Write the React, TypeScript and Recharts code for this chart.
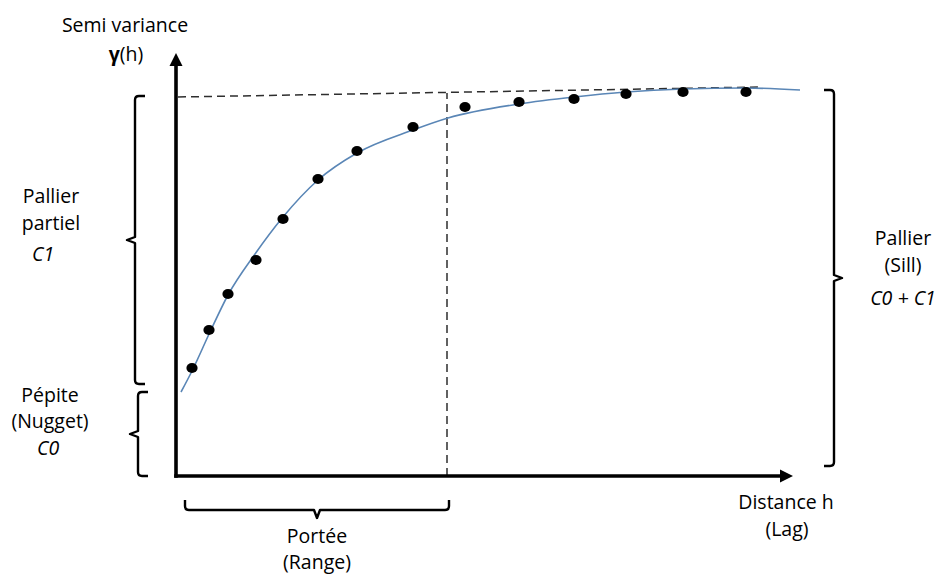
import React from "react";
import {
  ComposedChart,
  Line,
  Scatter,
  XAxis,
  YAxis,
  ReferenceLine,
} from "recharts";

// experimental semivariogram (lag h, gamma(h))
const lags = [1.6, 3.3, 5.2, 8.0, 10.7, 14.2, 18.1, 23.7, 28.9, 34.3, 39.8, 45.0, 50.7, 57.0];
const gammas = [10.8, 14.6, 18.2, 21.6, 25.7, 29.7, 32.5, 34.9, 36.9, 37.4, 37.7, 38.2, 38.4, 38.4];

// fitted model curve
const modelLags = [0.5, 1.6, 3.4, 5.2, 7.9, 10.7, 14.2, 18.1, 23.7, 27.2, 34.3, 39.8, 45.0, 50.7, 56.9, 62.4];
const modelGammas = [8.4, 10.5, 14.4, 18.1, 22.2, 25.9, 29.6, 32.3, 34.6, 35.8, 37.2, 37.9, 38.4, 38.7, 38.8, 38.6];

const nugget = 8.4;
const sillStart = 37.9;
const sillEnd = 38.9;
const range = 27.1;

const points = lags.map((h, i) => ({ h, g: gammas[i] }));
const model = modelLags.map((h, i) => ({ h, g: modelGammas[i] }));

const FONT = "'Open Sans', sans-serif";

type Seg = { x1: number; y1: number; x2: number; y2: number };

// bracket: n = opening direction (unit normal)
const bracket = (nx: number, ny: number) => (p: Seg) => {
  const x1 = +p.x1, y1 = +p.y1, x2 = +p.x2, y2 = +p.y2;
  const len = Math.hypot(x2 - x1, y2 - y1) || 1;
  const ux = (x2 - x1) / len;
  const uy = (y2 - y1) / len;
  const s = 10;
  const r = 4;
  const t = 8;
  const mx = (x1 + x2) / 2;
  const my = (y1 + y2) / 2;
  const d =
    `M${x1 + nx * s},${y1 + ny * s} L${x1 + nx * r},${y1 + ny * r} ` +
    `Q${x1},${y1} ${x1 + ux * r},${y1 + uy * r} ` +
    `L${mx - ux * 3},${my - uy * 3} L${mx - nx * t},${my - ny * t} L${mx + ux * 3},${my + uy * 3} ` +
    `L${x2 - ux * r},${y2 - uy * r} Q${x2},${y2} ${x2 + nx * r},${y2 + ny * r} ` +
    `L${x2 + nx * s},${y2 + ny * s}`;
  return <path d={d} fill="none" stroke="#000" strokeWidth={2.4} strokeLinejoin="round" />;
};

const arrow = (p: Seg) => {
  const x1 = +p.x1, y1 = +p.y1, x2 = +p.x2, y2 = +p.y2;
  const len = Math.hypot(x2 - x1, y2 - y1) || 1;
  const ux = (x2 - x1) / len;
  const uy = (y2 - y1) / len;
  const hl = 13;
  const hw = 6.5;
  const bx = x2 - ux * hl;
  const by = y2 - uy * hl;
  return (
    <g>
      <line x1={x1 - ux * 1.8} y1={y1 - uy * 1.8} x2={bx} y2={by} stroke="#000" strokeWidth={3.6} />
      <polygon
        points={`${x2},${y2} ${bx - uy * hw},${by + ux * hw} ${bx + uy * hw},${by - ux * hw}`}
        fill="#000"
      />
    </g>
  );
};

const Dot = (props: any) => (
  <ellipse cx={props.cx} cy={props.cy} rx={5.6} ry={5} fill="#000" />
);

const T = ({ x, y, children, anchor = "middle", italic = false }: any) => (
  <text
    x={x}
    y={y}
    textAnchor={anchor}
    fontFamily={FONT}
    fontSize={19.5}
    fontStyle={italic ? "italic" : "normal"}
    fill="#000"
  >
    {children}
  </text>
);

const Labels = () => (
  <g>
    <T x={125} y={32}>Semi variance</T>
    <text x={126} y={61} textAnchor="middle" fontFamily={FONT} fontSize={19.5} fill="#000">
      <tspan fontWeight="bold">γ</tspan>(h)
    </text>
    <T x={51} y={203}>Pallier</T>
    <T x={51} y={230}>partiel</T>
    <T x={32} y={261} anchor="start" italic>C1</T>
    <T x={50} y={402}>Pépite</T>
    <T x={50} y={428}>(Nugget)</T>
    <T x={37} y={455} anchor="start" italic>C0</T>
    <T x={317} y={543}>Portée</T>
    <T x={317} y={569}>(Range)</T>
    <T x={786} y={509}>Distance h</T>
    <T x={787} y={536}>(Lag)</T>
    <T x={903} y={245}>Pallier</T>
    <T x={903} y={272}>(Sill)</T>
    <T x={903} y={305} italic>C0 + C1</T>
  </g>
);

export default function App() {
  return (
    <div style={{ position: "absolute", left: 0, top: 0, background: "#fff" }}>
      <ComposedChart
        width={938}
        height={574}
        margin={{ top: 50, right: 138, bottom: 98, left: 176 }}
      >
        <XAxis type="number" dataKey="h" domain={[0, 62.4]} hide />
        <YAxis type="number" dataKey="g" domain={[0, 42.6]} hide />

        <ReferenceLine
          segment={[{ x: 0.2, y: sillStart }, { x: 58.4, y: sillEnd }]}
          stroke="#2e2e2e"
          strokeWidth={1.5}
          strokeDasharray="8 5"
          ifOverflow="visible"
        />
        <ReferenceLine
          segment={[{ x: range, y: 0 }, { x: range, y: 38.3 }]}
          stroke="#2e2e2e"
          strokeWidth={1.5}
          strokeDasharray="8 5"
          ifOverflow="visible"
        />

        <Line
          data={model}
          dataKey="g"
          type="monotone"
          stroke="#5a86b6"
          strokeWidth={1.6}
          dot={false}
          activeDot={false}
          isAnimationActive={false}
        />
        <Scatter data={points} dataKey="g" shape={Dot} isAnimationActive={false} />

        {/* axes with arrows */}
        <ReferenceLine
          segment={[{ x: 0, y: 0 }, { x: 0, y: 42.3 }]}
          shape={arrow}
          ifOverflow="visible"
        />
        <ReferenceLine
          segment={[{ x: 0, y: 0 }, { x: 61.7, y: 0 }]}
          shape={arrow}
          ifOverflow="visible"
        />

        {/* brackets */}
        <ReferenceLine
          segment={[{ x: -4.1, y: sillStart + 0.1 }, { x: -4.1, y: nugget + 0.8 }]}
          shape={bracket(1, 0)}
          ifOverflow="visible"
        />
        <ReferenceLine
          segment={[{ x: -3.8, y: nugget }, { x: -3.8, y: 0 }]}
          shape={bracket(1, 0)}
          ifOverflow="visible"
        />
        <ReferenceLine
          segment={[{ x: 65.8, y: 38.6 }, { x: 65.8, y: 1.0 }]}
          shape={bracket(-1, 0)}
          ifOverflow="visible"
        />
        <ReferenceLine
          segment={[{ x: 0.9, y: -3.4 }, { x: range + 0.2, y: -3.4 }]}
          shape={bracket(0, -1)}
          ifOverflow="visible"
        />

        <Labels />
      </ComposedChart>
    </div>
  );
}
